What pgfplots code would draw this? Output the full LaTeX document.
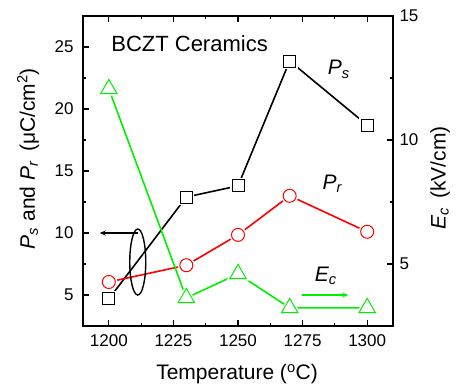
\documentclass[border=0pt]{standalone}
\usepackage{pgfplots}
\pgfplotsset{compat=1.18}
\usepackage{fontspec}
\setmainfont{Liberation Sans}
\usetikzlibrary{arrows.meta}
\definecolor{mygreen}{RGB}{0,240,0}
\begin{document}
\begin{tikzpicture}
\pgfplotsset{
 common/.style={
  scale only axis, width=310pt, height=310pt,
  xmin=1190, xmax=1310, ymin=2.5,
  tick align=inside,
  major tick length=6pt, minor tick length=3.5pt,
  every tick/.style={black, line width=1.2pt},
  axis line style={line width=1.8pt},
  tick label style={font=\fontsize{17}{18}\selectfont},
  label style={font=\fontsize{21}{24}\selectfont},
  /pgf/number format/assume math mode=true,
  /pgf/number format/1000 sep={},
 },
 halo/.style={only marks, mark options={fill=white, draw=white, line width=#1}},
}
\pgfplotstableread{
x ps pr
1200 4.68 6.05
1230 12.9 7.4
1250 13.8 9.85
1270 23.87 13.0
1300 18.7 10.1
}\tabP
\pgfplotstableread{
x ec
1200 12.06
1230 3.63
1250 4.6
1270 3.23
1300 3.23
}\tabE
\begin{axis}[common, name=ax, ymax=27.5,
  xtick={1200,1225,1250,1275,1300}, minor x tick num=1,
  ytick={5,10,15,20,25}, minor y tick num=1,
  ytick pos=left, xtick pos=both, xticklabel pos=lower,
  xticklabel style={yshift=-5pt},
  yticklabel style={xshift=-6pt},
  xlabel={Temperature (\textsuperscript{o}C)},
  xlabel style={at={(axis description cs:0.497,-0.155)}, anchor=center},
  ylabel={\textit{P\textsubscript{s}} and \textit{P\textsubscript{r}} \,(μC/cm\textsuperscript{2})},
  ylabel style={at={(axis description cs:-0.177,0.54)}, anchor=center, rotate=0},
  clip=false]
\addplot[black, line width=1.6pt, mark=none] table[x=x, y=ps] {\tabP};
\addplot[halo=4pt, mark=square*, mark size=6pt] table[x=x, y=ps] {\tabP};
\addplot[black, only marks, mark=square*, mark size=6pt, mark options={fill=white, line width=1pt}] table[x=x, y=ps] {\tabP};
\addplot[red, line width=1.6pt, mark=none] table[x=x, y=pr] {\tabP};
\addplot[halo=4pt, mark=*, mark size=6.5pt] table[x=x, y=pr] {\tabP};
\addplot[red, only marks, mark=*, mark size=6.5pt, mark options={fill=white, line width=1pt}] table[x=x, y=pr] {\tabP};
\node[anchor=west, font=\fontsize{22}{24}\selectfont] at (axis cs:1199.6,25.24) {BCZT Ceramics};
\node[font=\fontsize{21}{24}\selectfont] at (axis cs:1289,23.2) {\textit{P\textsubscript{s}}};
\node[font=\fontsize{21}{24}\selectfont] at (axis cs:1286.5,13.95) {\textit{P\textsubscript{r}}};
\node[font=\fontsize{21}{24}\selectfont] at (axis cs:1284,6.53) {\textit{E\textsubscript{c}}};
\draw[line width=1.4pt] (axis cs:1211.2,7.66) ellipse [x radius=8pt, y radius=33pt];
\draw[line width=1.4pt, -{Stealth[length=6pt,width=5pt]}] (axis cs:1211.2,10) -- (axis cs:1196.5,10);
\draw[mygreen, line width=1.6pt, -{Stealth[length=6pt,width=5pt]}] (axis cs:1274.6,5.0) -- (axis cs:1292.7,5.0);
\end{axis}
\begin{axis}[common, ymax=15,
  axis x line=none, axis y line*=right,
  ytick={5,10,15}, minor y tick num=1,
  yticklabel style={xshift=3pt},
  ylabel={\textit{E\textsubscript{c}} \,(kV/cm)},
  ylabel style={at={(axis description cs:1.152,0.477)}, anchor=center, rotate=0},
  clip=false]
\addplot[mygreen, line width=1.6pt, mark=none] table[x=x, y=ec] {\tabE};
\addplot[halo=4pt, mark=triangle*, mark size=9.5pt] table[x=x, y=ec] {\tabE};
\addplot[mygreen, only marks, mark=triangle*, mark size=9.5pt, mark options={fill=white, line width=1pt}] table[x=x, y=ec] {\tabE};
\end{axis}
\pgfresetboundingbox
\path ([shift={(-83pt,-59pt)}]ax.south west) rectangle ++(457pt,385pt);
\end{tikzpicture}
\end{document}
